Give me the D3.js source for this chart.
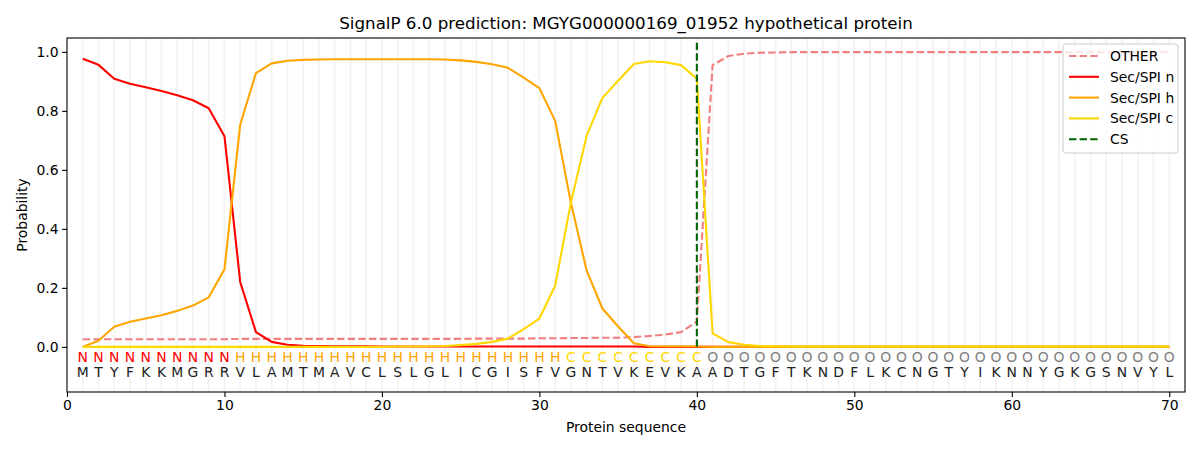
<!DOCTYPE html>
<html>
<head>
<meta charset="utf-8">
<script src="https://cdn.jsdelivr.net/npm/d3@7"></script>
<style>
  body { margin: 0; background: #fff; }
  svg { font-family: "DejaVu Sans", sans-serif; }
</style>
</head>
<body>
<svg id="chart"></svg>
<script>
const TITLE = "SignalP 6.0 prediction: MGYG000000169_01952 hypothetical protein";

const SEQUENCE = "MTYFKKMGRRVLAMTMAVCLSLGLICGISFVGNTVKEVKAADTGFTKNDFLKCNGTYIKNNYGKGSNVYL".split("");
const REGIONS  = "NNNNNNNNNNHHHHHHHHHHHHHHHHHHHHHCCCCCCCCCOOOOOOOOOOOOOOOOOOOOOOOOOOOOOO".split("");

const OTHER = [
  0.026, 0.026, 0.026, 0.026, 0.026, 0.026, 0.026, 0.026, 0.026, 0.026,
  0.027, 0.027, 0.027, 0.027, 0.027, 0.027, 0.027, 0.027, 0.027, 0.027,
  0.027, 0.027, 0.027, 0.027, 0.027, 0.028, 0.028, 0.028, 0.028, 0.029,
  0.029, 0.030, 0.030, 0.031, 0.031, 0.033, 0.037, 0.042, 0.050, 0.086,
  0.955, 0.986, 0.994, 0.997, 0.998, 0.999, 0.999, 0.999, 0.999, 0.999,
  0.999, 0.999, 0.999, 0.999, 0.999, 0.999, 0.999, 0.999, 0.999, 0.999,
  0.999, 0.999, 0.999, 0.999, 0.999, 0.999, 0.999, 0.999, 0.999, 0.999
];
const SEC_N = [
  0.977, 0.956, 0.909, 0.892, 0.880, 0.867, 0.853, 0.836, 0.809, 0.714,
  0.220, 0.050, 0.017, 0.007, 0.004, 0.003, 0.002, 0.002, 0.002, 0.001,
  0.001, 0.001, 0.001, 0.001, 0.001, 0.001, 0.001, 0.001, 0.001, 0.001,
  0.001, 0.001, 0.001, 0.001, 0.001, 0.001, 0.000, 0.000, 0.000, 0.000,
  0.000, 0.000, 0.000, 0.000, 0.000, 0.000, 0.000, 0.000, 0.000, 0.000,
  0.000, 0.000, 0.000, 0.000, 0.000, 0.000, 0.000, 0.000, 0.000, 0.000,
  0.000, 0.000, 0.000, 0.000, 0.000, 0.000, 0.000, 0.000, 0.000, 0.000
];
const SEC_H = [
  0.000, 0.021, 0.068, 0.085, 0.096, 0.107, 0.122, 0.140, 0.168, 0.263,
  0.754, 0.928, 0.961, 0.970, 0.973, 0.974, 0.975, 0.975, 0.975, 0.975,
  0.975, 0.975, 0.975, 0.974, 0.971, 0.966, 0.958, 0.946, 0.913, 0.877,
  0.766, 0.489, 0.259, 0.130, 0.069, 0.012, 0.002, 0.001, 0.001, 0.001,
  0.000, 0.000, 0.000, 0.000, 0.000, 0.000, 0.000, 0.000, 0.000, 0.000,
  0.000, 0.000, 0.000, 0.000, 0.000, 0.000, 0.000, 0.000, 0.000, 0.000,
  0.000, 0.000, 0.000, 0.000, 0.000, 0.000, 0.000, 0.000, 0.000, 0.000
];
const SEC_C = [
  0.000, 0.000, 0.000, 0.000, 0.000, 0.000, 0.000, 0.000, 0.000, 0.000,
  0.000, 0.000, 0.000, 0.000, 0.000, 0.000, 0.000, 0.000, 0.000, 0.000,
  0.001, 0.001, 0.002, 0.003, 0.006, 0.010, 0.017, 0.028, 0.060, 0.096,
  0.207, 0.489, 0.715, 0.844, 0.902, 0.959, 0.968, 0.965, 0.955, 0.909,
  0.046, 0.016, 0.007, 0.003, 0.002, 0.001, 0.001, 0.001, 0.001, 0.001,
  0.001, 0.001, 0.001, 0.001, 0.001, 0.001, 0.001, 0.001, 0.001, 0.001,
  0.001, 0.001, 0.001, 0.001, 0.001, 0.001, 0.001, 0.001, 0.001, 0.001
];
const CS_POS = 40;

const X_TICKS = [0, 10, 20, 30, 40, 50, 60, 70];
const Y_TICKS = [0.0, 0.2, 0.4, 0.6, 0.8, 1.0];

const SERIES = [
  { name: "OTHER",     values: OTHER, color: "#f08080", dash: "7.4,3.2" },
  { name: "Sec/SPI n", values: SEC_N, color: "#ff0000", dash: null },
  { name: "Sec/SPI h", values: SEC_H, color: "#ffa500", dash: null },
  { name: "Sec/SPI c", values: SEC_C, color: "#ffd700", dash: null }
];
const REGION_COLORS = { N: "#ff0000", H: "#ffa500", C: "#ffd700", O: "#808080" };

const W = 1200, H = 450;
const M = { top: 38, right: 15, bottom: 58, left: 67 };

const svg = d3.select("#chart").attr("width", W).attr("height", H);
svg.append("rect").attr("width", W).attr("height", H).attr("fill", "#fff");

const x = d3.scaleLinear().domain([0, 71]).range([M.left, W - M.right]);
const y = d3.scaleLinear().domain([-0.153, 1.047]).range([H - M.bottom, M.top]);

const positions = d3.range(1, SEQUENCE.length + 1);

// vertical grid per residue
svg.append("g")
  .selectAll("line")
  .data(positions)
  .enter().append("line")
  .attr("x1", (d) => x(d)).attr("x2", (d) => x(d))
  .attr("y1", M.top).attr("y2", H - M.bottom)
  .attr("stroke", "#f3f3f3")
  .attr("stroke-width", 1.8);

// residue + region letters
svg.append("g")
  .selectAll("text")
  .data(positions)
  .enter().append("text")
  .attr("x", (d) => x(d))
  .attr("y", y(-0.05))
  .attr("text-anchor", "middle")
  .attr("font-size", 13.9)
  .attr("fill", (d) => REGION_COLORS[REGIONS[d - 1]])
  .text((d) => REGIONS[d - 1]);

svg.append("g")
  .selectAll("text")
  .data(positions)
  .enter().append("text")
  .attr("x", (d) => x(d))
  .attr("y", y(-0.102))
  .attr("text-anchor", "middle")
  .attr("font-size", 13.9)
  .attr("fill", "#222")
  .text((d) => SEQUENCE[d - 1]);

// probability lines
const line = d3.line()
  .x((d, i) => x(i + 1))
  .y((d) => y(d));

SERIES.forEach((s) => {
  svg.append("path")
    .datum(s.values)
    .attr("d", line)
    .attr("fill", "none")
    .attr("stroke", s.color)
    .attr("stroke-width", 2.1)
    .attr("stroke-linejoin", "round")
    .attr("stroke-dasharray", s.dash);
});

// cleavage site
svg.append("line")
  .attr("x1", x(CS_POS)).attr("x2", x(CS_POS))
  .attr("y1", y(0)).attr("y2", y(1.035))
  .attr("stroke", "#006400")
  .attr("stroke-width", 2.1)
  .attr("stroke-dasharray", "7.4,3.2");

// axes
const xAxis = d3.axisBottom(x).tickValues(X_TICKS).tickFormat(d3.format("d")).tickSize(4.9).tickPadding(3.5);
const yAxis = d3.axisLeft(y).tickValues(Y_TICKS).tickFormat(d3.format(".1f")).tickSize(4.9).tickPadding(3.5);

const gx = svg.append("g").attr("transform", `translate(0,${H - M.bottom})`).call(xAxis);
const gy = svg.append("g").attr("transform", `translate(${M.left},0)`).call(yAxis);
[gx, gy].forEach((g) => {
  g.select(".domain").remove();
  g.selectAll("line").attr("stroke", "#000").attr("stroke-width", 1.1);
  g.selectAll("text").attr("font-size", 13.9).attr("fill", "#000")
    .attr("font-family", "DejaVu Sans");
});

svg.append("rect")
  .attr("x", M.left).attr("y", M.top)
  .attr("width", W - M.left - M.right)
  .attr("height", H - M.top - M.bottom)
  .attr("fill", "none")
  .attr("stroke", "#000")
  .attr("stroke-width", 1.1);

// titles
svg.append("text")
  .attr("x", (M.left + W - M.right) / 2)
  .attr("y", 29)
  .attr("text-anchor", "middle")
  .attr("font-size", 16.7)
  .text(TITLE);

svg.append("text")
  .attr("x", (M.left + W - M.right) / 2)
  .attr("y", 432)
  .attr("text-anchor", "middle")
  .attr("font-size", 13.9)
  .text("Protein sequence");

svg.append("text")
  .attr("transform", `translate(27,${(M.top + H - M.bottom) / 2}) rotate(-90)`)
  .attr("text-anchor", "middle")
  .attr("font-size", 13.9)
  .text("Probability");

// legend
const legendItems = SERIES.map((s) => ({ name: s.name, color: s.color, dash: s.dash }))
  .concat([{ name: "CS", color: "#006400", dash: "7.4,3.2" }]);

const lg = svg.append("g").attr("transform", "translate(1063,44)");
lg.append("rect")
  .attr("width", 115).attr("height", 109)
  .attr("rx", 3)
  .attr("fill", "#fff").attr("fill-opacity", 0.8)
  .attr("stroke", "#cccccc");

legendItems.forEach((d, i) => {
  const cy = 12 + i * 20.8;
  lg.append("line")
    .attr("x1", 6).attr("x2", 36)
    .attr("y1", cy).attr("y2", cy)
    .attr("stroke", d.color)
    .attr("stroke-width", 2.1)
    .attr("stroke-dasharray", d.dash);
  lg.append("text")
    .attr("x", 47).attr("y", cy + 5)
    .attr("font-size", 13.9)
    .text(d.name);
});
</script>
</body>
</html>
